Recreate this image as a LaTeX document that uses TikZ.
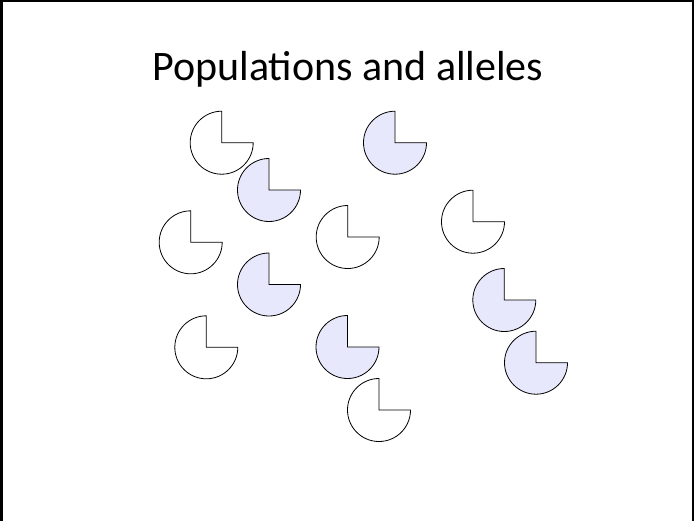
\documentclass[tikz,border=0pt]{standalone}
\usepackage{fontspec}
\setmainfont{Carlito}
\definecolor{allelblue}{RGB}{232,232,252}
\tikzset{
  allele/.style={draw=black, line width=0.8pt, line join=miter},
  plainallele/.style={allele, fill=white},
  bluallele/.style={allele, fill=allelblue},
  frameline/.style={draw=black, line width=2.4pt},
  titletext/.style={font=\fontsize{42}{50}\selectfont, inner sep=0pt, anchor=base}
}
\newcommand\pacshape[3]{\path[#1] (#2pt,#3pt) -- ++(0pt,31.5pt) arc[start angle=90,end angle=360,radius=31.5pt] -- cycle;}
\begin{document}
\begin{tikzpicture}[x=1pt,y=1pt]
\useasboundingbox (0,0) rectangle (696,-520);
\fill[white] (0,0) rectangle (696,-520);
\coordinate (bl) at (1.3,-522);
\coordinate (tl) at (1.3,-1.2);
\coordinate (tr) at (693.2,-1.2);
\coordinate (br) at (693.2,-522);
\draw[frameline] (bl) -- (tl) -- (tr) -- (br);
\node[titletext] (title) at (348,-80) {Populations and alleles};
\pacshape{plainallele}{221.7}{-142.7}
\pacshape{bluallele}{395}{-142.7}
\pacshape{bluallele}{269}{-190}
\pacshape{plainallele}{190.7}{-242.3}
\pacshape{plainallele}{347.7}{-237}
\pacshape{plainallele}{473}{-221.7}
\pacshape{bluallele}{269}{-284.5}
\pacshape{bluallele}{504.3}{-300}
\pacshape{plainallele}{206.3}{-347.3}
\pacshape{bluallele}{347.5}{-347}
\pacshape{bluallele}{536}{-362.7}
\pacshape{plainallele}{379}{-410}
\end{tikzpicture}
\end{document}
